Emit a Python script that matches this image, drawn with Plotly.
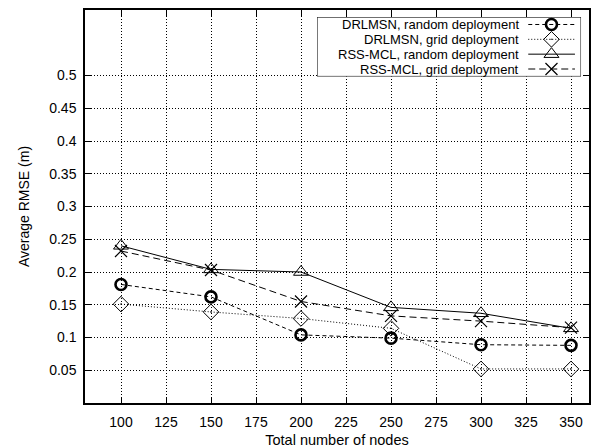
import plotly.graph_objects as go

# Average RMSE versus total number of nodes
nodes = [100, 150, 200, 250, 300, 350]
drlmsn_random = [0.181, 0.162, 0.104, 0.099, 0.089, 0.088]
drlmsn_grid = [0.151, 0.139, 0.129, 0.114, 0.052, 0.052]
rssmcl_random = [0.240, 0.204, 0.200, 0.146, 0.137, 0.114]
rssmcl_grid = [0.232, 0.203, 0.155, 0.133, 0.125, 0.115]

x_ticks = [100, 125, 150, 175, 200, 225, 250, 275, 300, 325, 350]
y_ticks = [0.05, 0.1, 0.15, 0.2, 0.25, 0.3, 0.35, 0.4, 0.45, 0.5]
y_tick_text = ["0.05", "0.1", "0.15", "0.2", "0.25", "0.3", "0.35", "0.4", "0.45", "0.5"]

series_names = [
    "DRLMSN, random deployment",
    "DRLMSN, grid deployment",
    "RSS-MCL, random deployment",
    "RSS-MCL, grid deployment",
]

FONT = "Liberation Sans, Arial, Helvetica, sans-serif"

styles = [
    dict(dash="4px,3px", symbol="circle-open", size=11, mlw=2.6),
    dict(dash="1px,2px", symbol="diamond-open-dot", size=12, mlw=1),
    dict(dash="solid", symbol="triangle-up-open", size=13, mlw=1),
    dict(dash="7px,4px", symbol="x-thin-open", size=12, mlw=1.2),
]
series = [drlmsn_random, drlmsn_grid, rssmcl_random, rssmcl_grid]

# Key box position (fractions of the plotting area)
KEY_X0, KEY_X1 = 0.4605, 0.9842
KEY_Y0, KEY_Y1 = 0.831, 0.982

fig = go.Figure()

for name, ys, st in zip(series_names, series, styles):
    fig.add_trace(go.Scatter(
        x=nodes, y=ys, name=name, mode="lines+markers",
        line=dict(color="black", width=1, dash=st["dash"]),
        marker=dict(symbol=st["symbol"], size=st["size"], color="black",
                    line=dict(color="black", width=st["mlw"])),
        showlegend=False, xaxis="x", yaxis="y",
    ))

# Key: text on the left, line sample with marker on the right
row_y = [3.5, 2.5, 1.5, 0.5]
for name, yy, st in zip(series_names, row_y, styles):
    fig.add_trace(go.Scatter(
        x=[0.80, 0.977], y=[yy, yy], mode="lines",
        line=dict(color="black", width=1, dash=st["dash"]),
        hoverinfo="skip", showlegend=False, xaxis="x2", yaxis="y2",
    ))
    fig.add_trace(go.Scatter(
        x=[0.888], y=[yy], mode="markers",
        marker=dict(symbol=st["symbol"], size=st["size"], color="black",
                    line=dict(color="black", width=st["mlw"])),
        hoverinfo="skip", showlegend=False, xaxis="x2", yaxis="y2",
    ))
    fig.add_annotation(
        x=0.77, y=yy, xref="x2", yref="y2", text=name, showarrow=False,
        xanchor="right", yanchor="middle", borderpad=0,
        font=dict(family=FONT, size=13, color="black"),
    )

# White key box, drawn in the key subplot beneath its traces
fig.add_shape(
    type="rect", xref="x2", yref="y2",
    x0=0, x1=1, y0=0, y1=4, layer="below",
    line=dict(color="black", width=1), fillcolor="white",
)

axis_common = dict(
    showline=True, linecolor="black", linewidth=1.5, mirror="ticks",
    ticks="inside", ticklen=6, tickwidth=1, tickcolor="black",
    showgrid=True, gridcolor="black", gridwidth=1, griddash="1px,2px",
    zeroline=False,
    tickfont=dict(family=FONT, size=14, color="black"),
)

fig.update_layout(
    width=592, height=448,
    margin=dict(l=85, r=1, t=10, b=43),
    paper_bgcolor="white", plot_bgcolor="white",
    xaxis=dict(
        range=[80, 360], tickvals=x_ticks,
        ticklabelstandoff=5,
        title=dict(text="Total number of nodes", standoff=7,
                   font=dict(family=FONT, size=14.5, color="black")),
        domain=[0, 1],
        **axis_common,
    ),
    yaxis=dict(
        range=[0, 0.6], tickvals=y_ticks, ticktext=y_tick_text,
        ticklabelstandoff=4,
        title=dict(text="Average RMSE (m)", standoff=16,
                   font=dict(family=FONT, size=14, color="black")),
        domain=[0, 1],
        **axis_common,
    ),
    xaxis2=dict(domain=[KEY_X0, KEY_X1], range=[0, 1], anchor="y2",
                visible=False, fixedrange=True),
    yaxis2=dict(domain=[KEY_Y0, KEY_Y1], range=[0, 4], anchor="x2",
                visible=False, fixedrange=True),
)

fig.write_html("out.html")
